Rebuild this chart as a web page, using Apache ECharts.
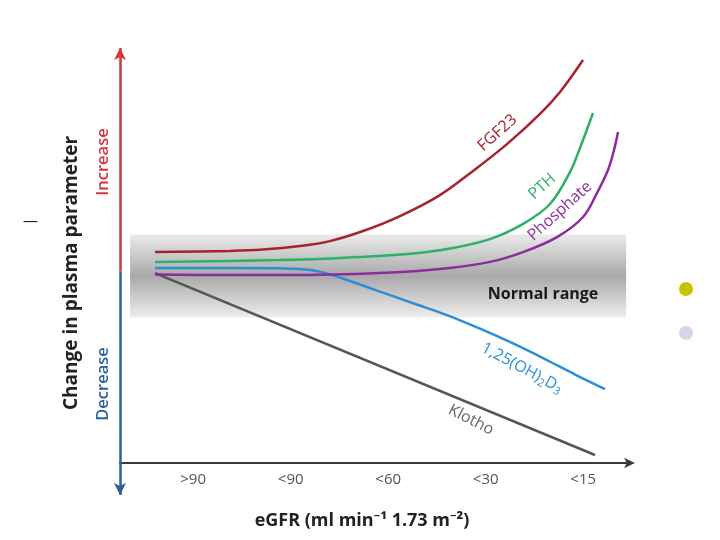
<!DOCTYPE html>
<html>
<head>
<meta charset="utf-8">
<script src="https://cdn.jsdelivr.net/npm/echarts@6/dist/echarts.min.js"></script>
<style>html,body{margin:0;padding:0;background:#fff;}#c{width:720px;height:540px;}</style>
</head>
<body>
<div id="c"></div>
<script>
// eGFR stage labels (positions 1..5 on x)
var stageLabels = ['>90', '<90', '<60', '<30', '<15'];
var stagePositions = [1, 2, 3, 4, 5];

// Schematic curves: [eGFR stage position, change in plasma parameter (0 = normal)]
var fgf23 = [[0.609,0.087],[1.378,0.092],[1.716,0.098],[2.096,0.114],[2.403,0.136],[2.742,0.181],[3.121,0.248],[3.531,0.342],[3.870,0.450],[4.218,0.570],[4.557,0.705],[4.762,0.803],[4.998,0.946]];
var pth = [[0.609,0.043],[1.891,0.051],[2.608,0.063],[3.255,0.081],[3.634,0.103],[4.044,0.145],[4.383,0.213],[4.659,0.302],[4.864,0.445],[4.967,0.553],[5.100,0.709]];
var phosphate = [[0.609,-0.013],[1.378,-0.016],[1.891,-0.016],[2.916,-0.007],[3.634,0.016],[4.044,0.043],[4.383,0.087],[4.731,0.154],[4.998,0.244],[5.141,0.351],[5.254,0.454],[5.316,0.544],[5.357,0.624]];
var vitD = [[0.609,0.016],[1.378,0.016],[1.891,0.014],[2.198,0.007],[2.403,-0.013],[2.578,-0.038],[2.916,-0.090],[3.255,-0.142],[3.603,-0.195],[3.942,-0.256],[4.280,-0.322],[4.618,-0.394],[4.916,-0.461],[5.223,-0.526]];
var klotho = [[0.609,-0.007],[5.121,-0.821]];

// Normal range band
var normalLow = -0.206, normalHigh = 0.166;
var bandStart = 0.353, bandEnd = 5.44;

var chart = echarts.init(document.getElementById('c'));
var FONT = '"Open Sans", "Noto Sans", sans-serif';

function lineSeries(name, data, color, smooth) {
  return {
    name: name, type: 'line', data: data, smooth: smooth,
    symbol: 'none', clip: false, z: 5,
    lineStyle: { color: color, width: 2.5 }
  };
}

var option = {
  animation: false,
  backgroundColor: '#fff',
  grid: { left: 120, right: 88, top: 48, bottom: 45 },
  xAxis: {
    type: 'value', min: 0.25, max: 5.5, offset: -32,
    axisLine: { show: true, onZero: false, symbol: ['none', 'arrow'], symbolSize: [8, 11], symbolOffset: [0, 3],
      lineStyle: { color: '#3a3a3a', width: 2 } },
    axisTick: { show: false },
    splitLine: { show: false },
    axisLabel: { customValues: stagePositions, margin: 9, color: '#555', fontSize: 15, fontFamily: FONT,
      formatter: function (v) { return stageLabels[Math.round(v) - 1]; } }
  },
  yAxis: { type: 'value', min: -1, max: 1, show: false, splitLine: { show: false } },
  series: [
    {
      name: 'band', type: 'line', data: [], clip: false, z: 1,
      markArea: {
        silent: true,
        itemStyle: {
          color: { type: 'linear', x: 0, y: 0, x2: 0, y2: 1, colorStops: [
            { offset: 0, color: '#ebebeb' }, { offset: 0.5, color: '#a9a9a9' }, { offset: 1, color: '#eeeeee' }] }
        },
        data: [[{ coord: [bandStart, normalHigh] }, { coord: [bandEnd, normalLow] }]]
      },
      markLine: {
        silent: true, symbol: ['none', 'arrow'], symbolSize: [9, 12], label: { show: false },
        data: [
          [{ coord: [0.25, 0], lineStyle: { color: '#d9343c', width: 2.5, type: 'solid' } }, { coord: [0.25, 1] }],
          [{ coord: [0.25, 0], lineStyle: { color: '#2b6296', width: 2.5, type: 'solid' } }, { coord: [0.25, -1] }]
        ]
      }
    },
    lineSeries('Klotho', klotho, '#555555', false),
    lineSeries('1,25(OH)2D3', vitD, '#2a8fd6', 0.35),
    lineSeries('Phosphate', phosphate, '#8d2c9c', 0.35),
    lineSeries('PTH', pth, '#2fb06a', 0.35),
    lineSeries('FGF23', fgf23, '#a8222c', 0.35)
  ]
};
chart.setOption(option);

// Curve annotations anchored in data coordinates
var notes = [
  { text: 'FGF23', at: [4.120, 0.620], rot: 42, color: '#a8222c', size: 16 },
  { text: 'PTH', at: [4.580, 0.380], rot: 42, color: '#2fb06a', size: 16 },
  { text: 'Phosphate', at: [4.760, 0.270], rot: 42, color: '#8d2c9c', size: 16 },
  { text: '{n|1,25(OH)}{s|2}{n|D}{s|3}', at: [4.372, -0.432], rot: -28, color: '#2a8fd6', size: 16, rich: true },
  { text: 'Klotho', at: [3.849, -0.664], rot: -27, color: '#666666', size: 16 },
  { text: 'Normal range', at: [4.588, -0.101], rot: 0, color: '#1a1a1a', size: 16, bold: true }
];
var graphics = [
  { type: 'text', id: 'dash', x: 30.5, y: 222, style: { text: '\u2014', fill: '#111', font: '15px ' + FONT, align: 'center', verticalAlign: 'middle' } }
];
notes.forEach(function (n, i) {
  var p = chart.convertToPixel({ gridIndex: 0 }, n.at);
  var st = { text: n.text, fill: n.color, font: (n.bold ? 'bold ' : '') + n.size + 'px ' + FONT,
    align: 'center', verticalAlign: 'middle' };
  if (n.rich) {
    st.rich = { n: { fill: n.color, fontSize: 16, fontFamily: FONT },
                s: { fill: n.color, fontSize: 11, fontFamily: FONT, padding: [9, 0, 0, 0] } };
  }
  graphics.push({ type: 'text', id: 'note' + i, x: p[0], y: p[1], rotation: n.rot * Math.PI / 180, style: st, z: 10 });
});
graphics.push(
  { type: 'text', id: 'ytitle', x: 72, y: 273, rotation: Math.PI / 2, style: { text: 'Change in plasma parameter', fill: '#222', font: 'bold 19px ' + FONT, align: 'center', verticalAlign: 'middle' } },
  { type: 'text', id: 'inc', x: 103, y: 162, rotation: Math.PI / 2, style: { text: 'Increase', fill: '#d9343c', font: '600 16.5px ' + FONT, align: 'center', verticalAlign: 'middle' } },
  { type: 'text', id: 'dec', x: 103, y: 384, rotation: Math.PI / 2, style: { text: 'Decrease', fill: '#2b6296', font: '600 16.5px ' + FONT, align: 'center', verticalAlign: 'middle' } },
  { type: 'text', id: 'xtitle', x: 362, y: 521, style: { text: 'eGFR (ml min⁻¹ 1.73 m⁻²)', fill: '#222', font: 'bold 18px ' + FONT, align: 'center', verticalAlign: 'middle' } },
  { type: 'circle', id: 'dot1', shape: { cx: 686, cy: 289, r: 7 }, style: { fill: '#c9c400' } },
  { type: 'circle', id: 'dot2', shape: { cx: 686, cy: 333, r: 7 }, style: { fill: '#d6d6ea' } }
);
chart.setOption({ graphic: graphics });
</script>
</body>
</html>
